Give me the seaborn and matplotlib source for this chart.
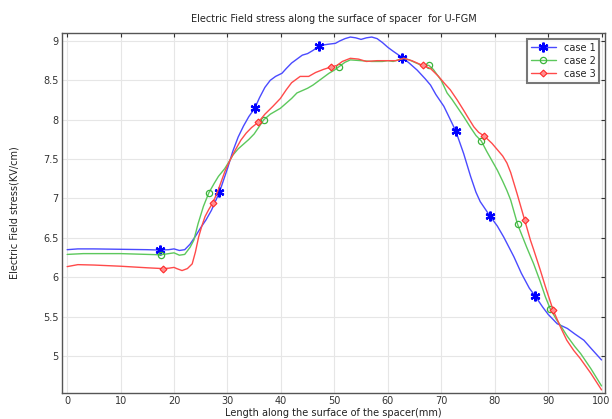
import matplotlib
matplotlib.use("Agg")
import matplotlib.pyplot as plt
import seaborn as sns
import pandas as pd

# case 1 (blue)
x1 = [0, 2, 5, 10, 15, 17.4, 19, 20, 21, 22, 23, 24, 25, 26, 27, 28.5, 30, 31, 32, 33, 34, 35.1,
      36, 37, 38, 39, 40.2, 41, 42, 43, 44, 45, 46, 47.1, 48, 49, 50.2, 51, 52, 53, 54, 55, 56, 57,
      58, 59, 60, 61, 62.7, 64, 65.5, 67, 68, 69, 70.5, 71.5, 72.7, 74.2, 75.5, 76.5, 77.3, 78.2,
      79.1, 80.5, 81.7, 83.6, 85, 86.5, 87.6, 89, 90, 91.7, 93.6, 95, 96.7, 98, 100]
y1 = [6.35, 6.36, 6.36, 6.355, 6.35, 6.345, 6.35, 6.36, 6.34, 6.35, 6.42, 6.52, 6.63, 6.73, 6.85,
      7.08, 7.38, 7.60, 7.78, 7.92, 8.04, 8.145, 8.28, 8.41, 8.50, 8.55, 8.59, 8.65, 8.72, 8.77,
      8.82, 8.84, 8.88, 8.93, 8.95, 8.96, 8.97, 9.0, 9.03, 9.05, 9.04, 9.02, 9.04, 9.05, 9.03, 8.98,
      8.92, 8.87, 8.79, 8.72, 8.63, 8.52, 8.44, 8.32, 8.17, 8.03, 7.86, 7.57, 7.28, 7.08, 6.96,
      6.87, 6.78, 6.65, 6.51, 6.26, 6.05, 5.86, 5.76, 5.62, 5.53, 5.41, 5.35, 5.28, 5.2, 5.1, 4.95]
marks1 = [17.4, 28.5, 35.1, 47.1, 62.7, 72.7, 79.1, 87.6]

# case 2 (green)
x2 = [0, 3, 10, 15, 17.5, 19, 20, 21, 22, 23, 23.7, 24.5, 25.5, 26.5, 27.5, 28.3, 29.5, 30.5, 31,
      32, 33, 34, 35, 36, 36.8, 38, 39.9, 42, 43, 44, 45, 46, 47, 48, 49, 50, 50.8, 52, 53, 55, 57,
      59, 60, 61, 62, 63, 64, 65, 66, 67.7, 68.5, 70, 71.1, 72, 73, 74.2, 75.5, 76.5, 77.5, 78.5,
      79.5, 80.5, 81.5, 82.3, 83, 84.3, 86, 87.3, 88.5, 89.5, 90.4, 91.5, 92.3, 93.6, 95, 96.1,
      98, 100]
y2 = [6.29, 6.30, 6.30, 6.29, 6.285, 6.30, 6.31, 6.28, 6.29, 6.38, 6.47, 6.68, 6.90, 7.07, 7.19,
      7.28, 7.38, 7.49, 7.55, 7.63, 7.69, 7.75, 7.82, 7.92, 8.0, 8.07, 8.145, 8.27, 8.34, 8.37,
      8.40, 8.44, 8.49, 8.54, 8.59, 8.63, 8.67, 8.73, 8.76, 8.75, 8.74, 8.74, 8.75, 8.74, 8.76,
      8.78, 8.76, 8.73, 8.70, 8.69, 8.64, 8.50, 8.34, 8.26, 8.16, 8.04, 7.90, 7.80, 7.73, 7.60,
      7.48, 7.36, 7.22, 7.10, 6.98, 6.67, 6.38, 6.17, 5.95, 5.75, 5.60, 5.47, 5.39, 5.25, 5.12,
      5.03, 4.84, 4.62]
marks2 = [17.5, 26.5, 36.8, 50.8, 67.7, 77.5, 84.3, 90.4]

# case 3 (red)
x3 = [0, 2, 5, 10, 15, 17.9, 19, 20, 20.5, 21.5, 22.5, 23.4, 24, 24.6, 25.2, 25.8, 26.5, 27.2, 28,
      28.7, 29.5, 30.5, 31.5, 32.5, 33.5, 34.5, 35.8, 37, 38.5, 39.9, 41, 42, 43.6, 45.2, 46.5, 48,
      49.4, 50.5, 51.5, 53, 54.5, 56, 58, 60, 61.5, 63, 64.5, 66.5, 68, 69.5, 70.5, 71.7, 73, 74.2,
      75, 76.1, 77, 78.1, 79.5, 80.5, 81.5, 82.3, 83, 84.2, 85.6, 86.7, 87.3, 88.5, 89.5, 90.9,
      92.3, 93.5, 94.8, 96, 98, 100]
y3 = [6.135, 6.16, 6.155, 6.14, 6.12, 6.11, 6.115, 6.125, 6.11, 6.085, 6.11, 6.17, 6.32, 6.51,
      6.65, 6.77, 6.86, 6.94, 7.06, 7.19, 7.34, 7.49, 7.62, 7.74, 7.83, 7.90, 7.97, 8.07, 8.17,
      8.27, 8.38, 8.47, 8.55, 8.55, 8.60, 8.64, 8.67, 8.69, 8.74, 8.78, 8.77, 8.74, 8.75, 8.75,
      8.75, 8.78, 8.75, 8.69, 8.65, 8.55, 8.47, 8.38, 8.25, 8.12, 8.03, 7.91, 7.84, 7.79, 7.70,
      7.62, 7.54, 7.45, 7.33, 7.06, 6.73, 6.47, 6.35, 6.10, 5.88, 5.59, 5.37, 5.20, 5.07, 4.97,
      4.78, 4.57]
marks3 = [17.9, 27.2, 35.8, 49.4, 66.5, 78.1, 85.6, 90.9]

x_ticks = list(range(0, 101, 10))
y_ticks = [5, 5.5, 6, 6.5, 7, 7.5, 8, 8.5, 9]
y_labels = ["5", "5.5", "6", "6.5", "7", "7.5", "8", "8.5", "9"]

sns.set_style("whitegrid")
plt.rcParams["font.family"] = ["DejaVu Sans"]

fig = plt.figure(figsize=(6.12, 4.19), dpi=100)
ax = fig.add_axes([0.101, 0.062, 0.888, 0.859])

cases = [
    ("case 1", x1, y1, marks1, "#4a4aff", "#0000ff", dict(marker=(6, 2, 0), markersize=7, mew=1.6)),
    ("case 2", x2, y2, marks2, "#5cc85c", "#3cb43c", dict(marker="o", markersize=4.5, mfc="none", mew=0.9)),
    ("case 3", x3, y3, marks3, "#ff4a4a", "#ff2a2a", dict(marker="D", markersize=3.5, mfc="#ff9090", mew=0.8)),
]
for name, xs, ys, marks, lc, mc, mk in cases:
    df = pd.DataFrame({"x": xs, "y": ys})
    idx = [xs.index(v) for v in marks]
    sns.lineplot(data=df, x="x", y="y", ax=ax, sort=False, color=lc, linewidth=1.0,
                 label=name, markevery=idx, mec=mc, **mk)

ax.set_xlim(-1, 100.7)
ax.set_ylim(4.53, 9.1)
ax.set_xticks(x_ticks)
ax.set_yticks(y_ticks)
ax.set_yticklabels(y_labels)
ax.tick_params(axis="both", labelsize=7, colors="#333333", direction="in", length=3,
               top=True, right=True, pad=2.5)
ax.grid(True, color="#e6e6e6", linewidth=0.8)
for s in ax.spines.values():
    s.set_color("#555555")
    s.set_linewidth(1.0)

ax.set_title("Electric Field stress along the surface of spacer  for U-FGM", fontsize=7, pad=8, color="#222222")
ax.set_xlabel("Length along the surface of the spacer(mm)", fontsize=7, labelpad=1, color="#222222")
ax.set_ylabel("Electric Field stress(KV/cm)", fontsize=7, labelpad=17, color="#222222")

leg = ax.legend(loc="upper right", fontsize=7, frameon=True, fancybox=False,
                borderaxespad=0.6, handlelength=2.6, labelspacing=0.3)
leg.get_frame().set_edgecolor("#555555")
leg.get_frame().set_linewidth(1.5)

fig.savefig("out.png", dpi=100)
